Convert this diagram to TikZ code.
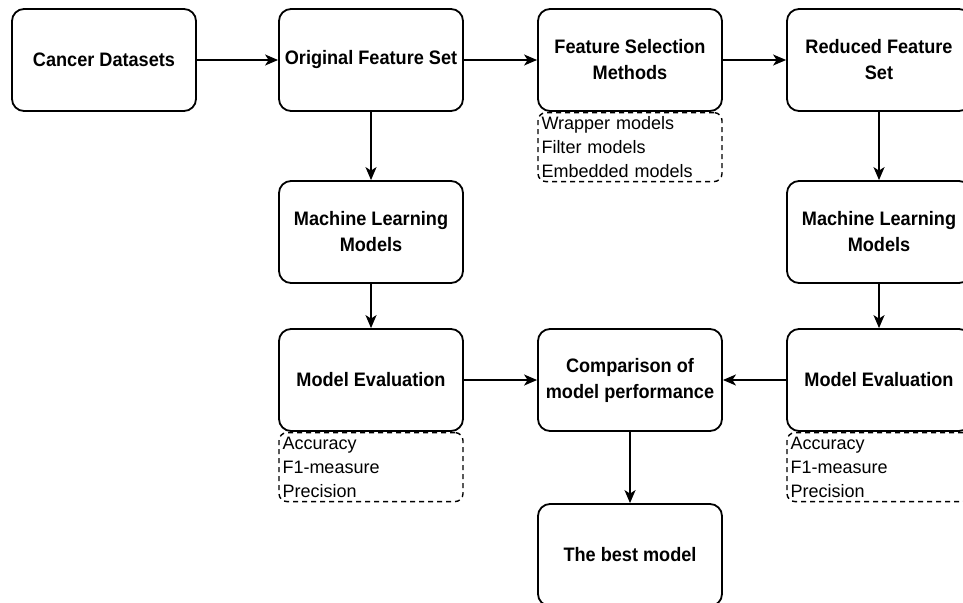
\documentclass[tikz,border=0pt]{standalone}
\usepackage{fontspec}
\setmainfont{Liberation Sans}
\newfontfamily\boxfont[FakeStretch=0.93]{Liberation Sans}
\usetikzlibrary{arrows.meta}

\begin{document}
\begin{tikzpicture}[x=1pt,y=-1pt]
            \tikzstyle{every node}+=[font=\fontsize{18}{24}\selectfont]
            \tikzstyle{box}=[draw=black, line width=1.8pt, rounded corners=12pt, minimum width=184pt, minimum height=102pt, inner sep=0pt, align=center, font=\boxfont\fontsize{19.5}{26}\selectfont\bfseries]
            \tikzstyle{note}=[draw=black, line width=1.4pt, dash pattern=on 5pt off 4pt, rounded corners=8pt, anchor=north, minimum height=69pt, text width=177pt, inner xsep=3.5pt, inner ysep=0pt, align=left]
            \tikzstyle{flow}=[line width=1.8pt, -{Stealth[length=13pt,width=11pt,inset=3.5pt]}]
            \useasboundingbox (0,0) rectangle (963,602);
            \node [box] (data) at (104,60) {Cancer Datasets};
            \node [box] (orig) at (371,60) {Original Feature Set};
            \node [box] (fsel) at (630,60) {Feature Selection\\Methods};
            \node [box] (red) at (879,60) {Reduced Feature\\Set};
            \node [note] (fselnote) at (fsel.south) {Wrapper models\\Filter models\\Embedded models};
            \node [box] (mlleft) at (371,232) {Machine Learning\\Models};
            \node [box] (mlright) at (879,232) {Machine Learning\\Models};
            \node [box] (evalleft) at (371,380) {Model Evaluation};
            \node [box] (comp) at (630,380) {Comparison of\\model performance};
            \node [box] (evalright) at (879,380) {Model Evaluation};
            \node [note] (evalleftnote) at (evalleft.south) {Accuracy\\F1-measure\\Precision};
            \node [note] (evalrightnote) at (evalright.south) {Accuracy\\F1-measure\\Precision};
            \node [box] (best) at (630,555) {The best model};
            \draw [flow] (data) -- (orig);
            \draw [flow] (orig) -- (fsel);
            \draw [flow] (fsel) -- (red);
            \draw [flow] (orig) -- (mlleft);
            \draw [flow] (red) -- (mlright);
            \draw [flow] (mlleft) -- (evalleft);
            \draw [flow] (mlright) -- (evalright);
            \draw [flow] (evalleft) -- (comp);
            \draw [flow] (evalright) -- (comp);
            \draw [flow] (comp) -- (best);
\end{tikzpicture}
\end{document}
